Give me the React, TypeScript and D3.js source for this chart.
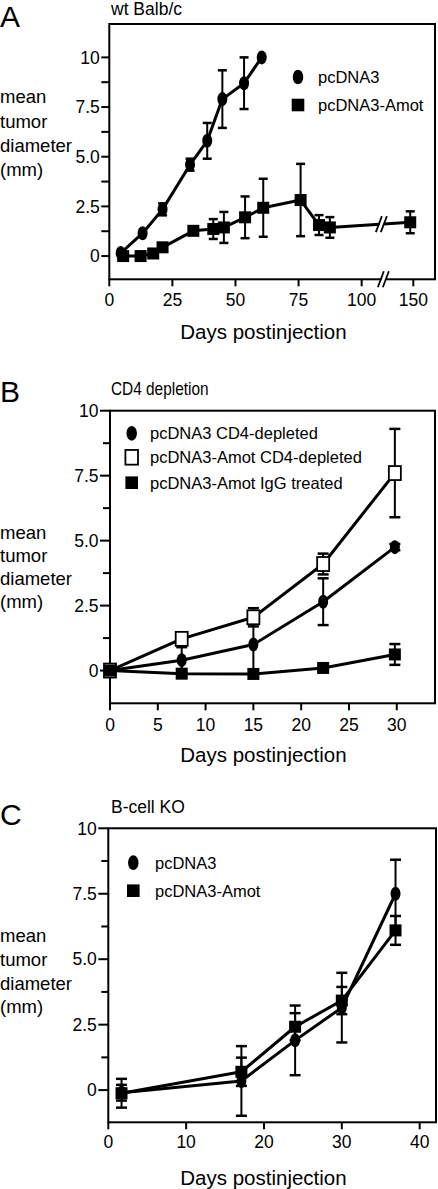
import React from "react";
import * as d3 from "d3";

const W = 438;
const H = 1189;
const FONT = "'Liberation Sans', Arial, Helvetica, sans-serif";

// ---------- Panel A : wt Balb/c ----------
const aDaysPc = [4.5, 13.2, 21.1, 32, 38.8, 44.8, 53.4, 60.4];
const aMeanPc = [0.15, 1.15, 2.35, 4.6, 5.8, 7.9, 8.7, 10.0];
const aErrPc = [0, 0, 0.3, 0.3, 0.9, 1.45, 1.3, 0];
const aDaysAmot = [5.5, 12.4, 17.4, 21.1, 33.3, 41.2, 45.4, 53.8, 61, 75.8, 83.1, 87.4, 147];
const aMeanAmot = [0, 0, 0.13, 0.44, 1.27, 1.36, 1.44, 1.95, 2.43, 2.82, 1.56, 1.44, 1.7];
const aErrAmot = [0, 0, 0, 0, 0.15, 0.5, 0.78, 1.05, 1.46, 1.82, 0.5, 0.52, 0.55];
const aXTicks = [0, 25, 50, 75, 100, 150];
const aBreakDay = 108;

// ---------- Panel B : CD4 depletion ----------
const bDays = [0, 7.5, 15, 22.3, 29.8];
const bMeanPcCD4 = [0, 0.4, 1.0, 2.65, 4.75];
const bErrPcCD4 = [0, 0.5, 0.95, 0.9, 0.12];
const bMeanAmotCD4 = [0, 1.22, 2.05, 4.1, 7.6];
const bErrAmotCD4 = [0, 0.22, 0.35, 0.4, 1.7];
const bMeanAmotIgG = [0, -0.12, -0.13, 0.1, 0.62];
const bErrAmotIgG = [0, 0.15, 0, 0.05, 0.4];
const bXTicks = [0, 5, 10, 15, 20, 25, 30];

// ---------- Panel C : B-cell KO ----------
const cDays = [1.7, 17.1, 24, 30, 36.9];
const cMeanPc = [-0.1, 0.35, 1.9, 3.15, 7.5];
const cErrPc = [0.3, 1.33, 1.33, 1.33, 1.3];
const cMeanAmot = [-0.12, 0.7, 2.42, 3.42, 6.1];
const cErrAmot = [0.55, 0.54, 0.52, 0.52, 0.55];
const cXTicks = [0, 10, 20, 30, 40];

const yMajor = [0, 2.5, 5, 7.5, 10];
const yMajorLabels = ["0", "2.5", "5.0", "7.5", "10"];
const yMinor = [1.25, 3.75, 6.25, 8.75];
const yLabelLines = ["mean", "tumor", "diameter", "(mm)"];
const xTitle = "Days postinjection";

type MarkerType = "circle" | "square" | "open";
type Series = { days: number[]; mean: number[]; err: number[]; marker: MarkerType; label: string };

function Marker({ type, x, y, s = 1 }: { type: MarkerType; x: number; y: number; s?: number }) {
  if (type === "circle") return <ellipse cx={x} cy={y} rx={5 * s} ry={7 * s} fill="#000" />;
  if (type === "square") return <rect x={x - 6 * s} y={y - 6 * s} width={12 * s} height={12 * s} fill="#000" />;
  return <rect x={x - 6 * s} y={y - 7 * s} width={12 * s} height={14 * s} fill="#fff" stroke="#000" strokeWidth={1.8} />;
}

type PanelProps = {
  x: any;
  y: d3.ScaleLinear<number, number>;
  box: { l: number; r: number; t: number; b: number };
  xTicks: number[];
  series: Series[];
  letter: string;
  letterY: number;
  title: string;
  titleY: number;
  titleCondensed?: boolean;
  yLabelBaselines: number[];
  majorTickLen: number;
  minorTickLen: number;
  xTickBaseline: number;
  xTitleBaseline: number;
  legend: { x: number; tx: number; ys: number[] };
  capW: number;
  breakDay?: number;
};

function Panel(p: PanelProps) {
  const { x, y, box } = p;
  const line = d3
    .line<[number, number]>()
    .x((d) => x(d[0]))
    .y((d) => y(d[1]));
  const slash = (cx: number, cy: number, key: string) => (
    <g key={key}>
      <polygon
        points={`${cx - 6},${cy + 8} ${cx + 2},${cy - 8} ${cx + 6},${cy - 8} ${cx - 2},${cy + 8}`}
        fill="#fff"
      />
      <line x1={cx - 6} y1={cy + 8} x2={cx + 0} y2={cy - 8} stroke="#000" strokeWidth={1.8} />
      <line x1={cx - 1} y1={cy + 8} x2={cx + 5} y2={cy - 8} stroke="#000" strokeWidth={1.8} />
    </g>
  );
  let breaks: React.ReactNode = null;
  if (p.breakDay !== undefined) {
    const s = p.series[1];
    const n = s.days.length;
    const x1 = x(s.days[n - 2]);
    const x2 = x(s.days[n - 1]);
    const y1 = y(s.mean[n - 2]);
    const y2 = y(s.mean[n - 1]);
    const bx = x(p.breakDay);
    const by = y1 + ((bx - x1) / (x2 - x1)) * (y2 - y1);
    breaks = [slash(bx, by, "bl"), slash(bx + 2, box.b, "ba")];
  }
  return (
    <g>
      <text x={0} y={p.letterY} fontSize={30} fontFamily={FONT}>
        {p.letter}
      </text>
      <text
        x={111}
        y={p.titleY}
        fontSize={p.titleCondensed ? 17.5 : 17.5}
        fontFamily={FONT}
        transform={p.titleCondensed ? `translate(111,0) scale(0.88,1) translate(-111,0)` : undefined}
      >
        {p.title}
      </text>
      {yLabelLines.map((t, i) => (
        <text key={t} x={0} y={p.yLabelBaselines[i]} fontSize={18.5} fontFamily={FONT}>
          {t}
        </text>
      ))}
      <rect x={box.l} y={box.t} width={box.r - box.l} height={box.b - box.t} fill="none" stroke="#000" strokeWidth={2} />
      {yMajor.map((v, i) => (
        <g key={"ym" + v}>
          <line x1={box.l - p.majorTickLen} x2={box.l} y1={y(v)} y2={y(v)} stroke="#000" strokeWidth={2} />
          <text
            x={box.l - p.majorTickLen - 1.5}
            y={y(v)}
            dy="0.36em"
            textAnchor="end"
            fontSize={17.5}
            fontFamily={FONT}
          >
            {yMajorLabels[i]}
          </text>
        </g>
      ))}
      {yMinor.map((v) => (
        <line key={"yn" + v} x1={box.l - p.minorTickLen} x2={box.l} y1={y(v)} y2={y(v)} stroke="#000" strokeWidth={2} />
      ))}
      {p.xTicks.map((v) => (
        <g key={"xt" + v}>
          <line x1={x(v)} x2={x(v)} y1={box.b} y2={box.b + 7} stroke="#000" strokeWidth={2} />
          <text x={x(v)} y={p.xTickBaseline} textAnchor="middle" fontSize={17.5} fontFamily={FONT}>
            {v}
          </text>
        </g>
      ))}
      <text x={263.5} y={p.xTitleBaseline} textAnchor="middle" fontSize={20.5} fontFamily={FONT}>
        {xTitle}
      </text>
      {p.series.map((s) => (
        <path
          key={"l" + s.label}
          d={line(s.days.map((d, i) => [d, s.mean[i]] as [number, number])) || ""}
          fill="none"
          stroke="#000"
          strokeWidth={3}
          strokeLinejoin="round"
        />
      ))}
      {breaks}
      {p.series.map((s) =>
        s.days.map((d, i) =>
          s.err[i] > 0 ? (
            <g key={"e" + s.label + i}>
              <line x1={x(d)} x2={x(d)} y1={y(s.mean[i] - s.err[i])} y2={y(s.mean[i] + s.err[i])} stroke="#000" strokeWidth={2} />
              <line x1={x(d) - p.capW / 2} x2={x(d) + p.capW / 2} y1={y(s.mean[i] + s.err[i])} y2={y(s.mean[i] + s.err[i])} stroke="#000" strokeWidth={2.5} />
              <line x1={x(d) - p.capW / 2} x2={x(d) + p.capW / 2} y1={y(s.mean[i] - s.err[i])} y2={y(s.mean[i] - s.err[i])} stroke="#000" strokeWidth={2.5} />
            </g>
          ) : null
        )
      )}
      {p.series.map((s) =>
        s.days.map((d, i) => <Marker key={"m" + s.label + i} type={s.marker} x={x(d)} y={y(s.mean[i])} />)
      )}
      {p.series.map((s, i) => (
        <g key={"lg" + s.label}>
          <Marker type={s.marker} x={p.legend.x} y={p.legend.ys[i]} s={1.05} />
          <text x={p.legend.tx} y={p.legend.ys[i]} dy="0.36em" fontSize={16.5} fontFamily={FONT}>
            {s.label}
          </text>
        </g>
      ))}
    </g>
  );
}

export default function App() {
  const xA = d3.scaleLinear().domain([0, 110, 140, 171]).range([109.3, 386.9, 403, 435]);
  const yA = d3.scaleLinear().domain([-1.17, 11.68]).range([279.3, 24]);
  const xB = d3.scaleLinear().domain([0, 34]).range([110, 435]);
  const yB = d3.scaleLinear().domain([-1.26, 10]).range([703.3, 410.7]);
  const xC = d3.scaleLinear().domain([0, 42.1]).range([108.3, 436]);
  const yC = d3.scaleLinear().domain([-1.23, 10]).range([1122.3, 828.3]);

  return (
    <svg
      width={W}
      height={H}
      viewBox={`0 0 ${W} ${H}`}
      style={{ position: "absolute", left: 0, top: 0, background: "#fff" }}
    >
      <rect width={W} height={H} fill="#fff" />
      <Panel
        x={xA}
        y={yA}
        box={{ l: 109.3, r: 435, t: 24, b: 279.3 }}
        xTicks={aXTicks}
        series={[
          { days: aDaysPc, mean: aMeanPc, err: aErrPc, marker: "circle", label: "pcDNA3" },
          { days: aDaysAmot, mean: aMeanAmot, err: aErrAmot, marker: "square", label: "pcDNA3-Amot" },
        ]}
        letter="A"
        letterY={27}
        title="wt Balb/c"
        titleY={15}
        yLabelBaselines={[103, 127.5, 151.5, 175.5]}
        majorTickLen={8}
        minorTickLen={8}
        xTickBaseline={306}
        xTitleBaseline={338.5}
        legend={{ x: 298, tx: 318, ys: [77, 105] }}
        capW={9}
        breakDay={aBreakDay}
      />
      <Panel
        x={xB}
        y={yB}
        box={{ l: 110, r: 435, t: 410.7, b: 703.3 }}
        xTicks={bXTicks}
        series={[
          { days: bDays, mean: bMeanPcCD4, err: bErrPcCD4, marker: "circle", label: "pcDNA3 CD4-depleted" },
          { days: bDays, mean: bMeanAmotCD4, err: bErrAmotCD4, marker: "open", label: "pcDNA3-Amot CD4-depleted" },
          { days: bDays, mean: bMeanAmotIgG, err: bErrAmotIgG, marker: "square", label: "pcDNA3-Amot IgG treated" },
        ]}
        letter="B"
        letterY={402}
        title="CD4 depletion"
        titleY={395}
        titleCondensed
        yLabelBaselines={[539.3, 562, 585, 607.5]}
        majorTickLen={10}
        minorTickLen={7}
        xTickBaseline={731}
        xTitleBaseline={761.5}
        legend={{ x: 131.7, tx: 150, ys: [433.3, 457.3, 482.7] }}
        capW={11}
      />
      <Panel
        x={xC}
        y={yC}
        box={{ l: 108.3, r: 436, t: 828.3, b: 1122.3 }}
        xTicks={cXTicks}
        series={[
          { days: cDays, mean: cMeanPc, err: cErrPc, marker: "circle", label: "pcDNA3" },
          { days: cDays, mean: cMeanAmot, err: cErrAmot, marker: "square", label: "pcDNA3-Amot" },
        ]}
        letter="C"
        letterY={825}
        title="B-cell KO"
        titleY={813.3}
        yLabelBaselines={[941.7, 965.5, 989.5, 1013]}
        majorTickLen={10}
        minorTickLen={7}
        xTickBaseline={1148}
        xTitleBaseline={1185}
        legend={{ x: 133.3, tx: 155, ys: [862.7, 890.7] }}
        capW={11}
      />
    </svg>
  );
}
